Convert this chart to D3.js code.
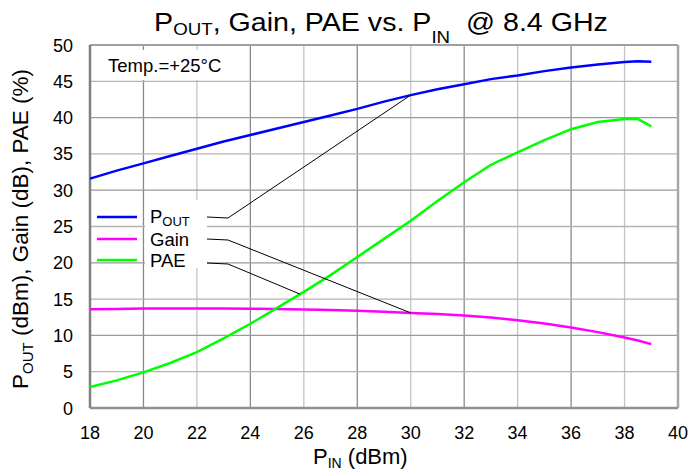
<!DOCTYPE html>
<html>
<head>
<meta charset="utf-8">
<script src="https://cdn.jsdelivr.net/npm/d3@7"></script>
<style>
  body { margin: 0; background: #fff; }
  text { font-family: "Liberation Sans", Arial, sans-serif; fill: #000; }
</style>
</head>
<body>
<div id="container"></div>
<script>
/* DATA */
const pin  = [18, 19, 20, 21, 22, 23, 24, 25, 26, 27, 28, 29, 30, 31, 32, 33, 34, 35, 36, 37, 38, 38.5, 39];
const pout = [31.6, 32.7, 33.7, 34.7, 35.7, 36.7, 37.6, 38.5, 39.4, 40.3, 41.2, 42.2, 43.1, 43.9, 44.6, 45.3, 45.8, 46.4, 46.9, 47.3, 47.65, 47.75, 47.7];
const gain = [13.6, 13.65, 13.7, 13.72, 13.72, 13.7, 13.68, 13.63, 13.58, 13.5, 13.4, 13.25, 13.1, 12.95, 12.75, 12.45, 12.1, 11.65, 11.1, 10.45, 9.7, 9.3, 8.8];
const pae  = [2.9, 3.8, 4.9, 6.2, 7.7, 9.6, 11.6, 13.8, 16.0, 18.3, 20.8, 23.3, 25.8, 28.5, 31.1, 33.5, 35.2, 36.9, 38.4, 39.4, 39.8, 39.8, 38.8];
const xTicks = [18, 20, 22, 24, 26, 28, 30, 32, 34, 36, 38, 40];
const yTicks = [0, 5, 10, 15, 20, 25, 30, 35, 40, 45, 50];

const margin = {top: 45, right: 16, bottom: 64, left: 90},
  width = 694 - margin.left - margin.right,
  height = 472 - margin.top - margin.bottom;

const svg = d3.select("#container")
  .append("svg")
  .attr("width", 694)
  .attr("height", 472);

const g = svg.append("g")
  .attr("transform", "translate(" + margin.left + "," + margin.top + ")");

const xScale = d3.scaleLinear().domain([18, 40]).range([0, width]);
const yScale = d3.scaleLinear().domain([0, 50]).range([height, 0]);

// grid
g.selectAll(".vgrid")
  .data(xTicks.slice(1, -1))
  .join("line")
  .attr("x1", d => xScale(d)).attr("x2", d => xScale(d))
  .attr("y1", 0).attr("y2", height)
  .attr("stroke", (d, i) => i % 2 == 0 ? "#8a8a8a" : "#c4c4c4")
  .attr("stroke-width", 1.3);

g.selectAll(".hgrid")
  .data(yTicks.slice(1, -1))
  .join("line")
  .attr("x1", 0).attr("x2", width)
  .attr("y1", d => yScale(d)).attr("y2", d => yScale(d))
  .attr("stroke", (d, i) => i % 2 == 0 ? "#b4b4b4" : "#9a9a9a")
  .attr("stroke-width", 1.3);

// frame
g.append("line").attr("x1", 0).attr("x2", width).attr("y1", 0).attr("y2", 0)
  .attr("stroke", "#a0a0a0").attr("stroke-width", 2);
g.append("line").attr("x1", width).attr("x2", width).attr("y1", 0).attr("y2", height)
  .attr("stroke", "#a8a8a8").attr("stroke-width", 2.5);
g.append("line").attr("x1", 0).attr("x2", 0).attr("y1", 0).attr("y2", height)
  .attr("stroke", "#808080").attr("stroke-width", 2.5);
g.append("line").attr("x1", 0).attr("x2", width).attr("y1", height).attr("y2", height)
  .attr("stroke", "#909090").attr("stroke-width", 2.5);

// temp label box
g.append("rect").attr("x", 2).attr("y", 5).attr("width", 144).attr("height", 30).attr("fill", "#fff");
g.append("text").attr("x", 18).attr("y", 27).style("font-size", "18.5px").text("Temp.=+25°C");

// legend label background
g.append("rect").attr("x", 55).attr("y", 155).attr("width", 62).attr("height", 68).attr("fill", "#fff");

// tick labels
svg.selectAll(".xt")
  .data(xTicks)
  .join("text")
  .attr("x", d => margin.left + xScale(d))
  .attr("y", margin.top + height + 31)
  .attr("text-anchor", "middle")
  .style("font-size", "18px")
  .text(d => d);

svg.selectAll(".yt")
  .data(yTicks)
  .join("text")
  .attr("x", margin.left - 17)
  .attr("y", d => margin.top + yScale(d) + 6.5)
  .attr("text-anchor", "end")
  .style("font-size", "18px")
  .text(d => d);

// series
const series = [
  {name: "POUT", values: pout, color: "#0000ff"},
  {name: "Gain", values: gain, color: "#ff00ff"},
  {name: "PAE", values: pae, color: "#00ff00"}
];

const line = d3.line()
  .x((d, i) => xScale(pin[i]))
  .y(d => yScale(d));

g.selectAll(".series")
  .data(series)
  .join("path")
  .attr("d", d => line(d.values))
  .attr("fill", "none")
  .attr("stroke", d => d.color)
  .attr("stroke-width", 2.5);

// legend
const legY = [172, 194, 215];
series.forEach((s, i) => {
  g.append("line")
    .attr("x1", 7).attr("x2", 47)
    .attr("y1", legY[i]).attr("y2", legY[i])
    .attr("stroke", s.color).attr("stroke-width", 2.5);
});

const l1 = g.append("text").attr("x", 60).attr("y", legY[0] + 6).style("font-size", "18.5px");
l1.append("tspan").text("P");
l1.append("tspan").attr("dy", 3).style("font-size", "13px").text("OUT");
g.append("text").attr("x", 60).attr("y", legY[1] + 7).style("font-size", "18.5px").text("Gain");
g.append("text").attr("x", 60).attr("y", legY[2] + 7).style("font-size", "18.5px").text("PAE");

// leader lines
const leaders = [
  {y: 172, tx: 30, ty: pout[pin.indexOf(30)]},
  {y: 194, tx: 30, ty: gain[pin.indexOf(30)]},
  {y: 218, tx: 25.85, ty: 15.7}
];
leaders.forEach(l => {
  g.append("polyline")
    .attr("points", [[117, l.y], [138, l.y + 1], [xScale(l.tx), yScale(l.ty)]].map(p => p.join(",")).join(" "))
    .attr("fill", "none")
    .attr("stroke", "#000")
    .attr("stroke-width", 1);
});

// title
const title = svg.append("text")
  .attr("transform", "translate(381,31) scale(1.1,1)")
  .attr("text-anchor", "middle")
  .style("font-size", "26px");
title.append("tspan").text("P");
title.append("tspan").attr("dy", 4).style("font-size", "17px").text("OUT");
title.append("tspan").attr("dy", -4).text(", Gain, PAE vs. P");
title.append("tspan").attr("dy", 12).style("font-size", "17px").text("IN");
title.append("tspan").attr("dy", -12).text("\u00a0 @ 8.4 GHz");

// x axis title
const xt = svg.append("text")
  .attr("x", 313).attr("y", 464)
  .style("font-size", "22px");
xt.append("tspan").text("P");
xt.append("tspan").attr("dy", 4).style("font-size", "14px").text("IN");
xt.append("tspan").attr("dy", -4).text(" (dBm)");

// y axis title
const yt = svg.append("text")
  .attr("transform", "translate(28,229) rotate(-90)")
  .attr("text-anchor", "middle")
  .style("font-size", "22.5px");
yt.append("tspan").text("P");
yt.append("tspan").attr("dy", 5).style("font-size", "15px").text("OUT");
yt.append("tspan").attr("dy", -5).text(" (dBm), Gain (dB), PAE (%)");
</script>
</body>
</html>
